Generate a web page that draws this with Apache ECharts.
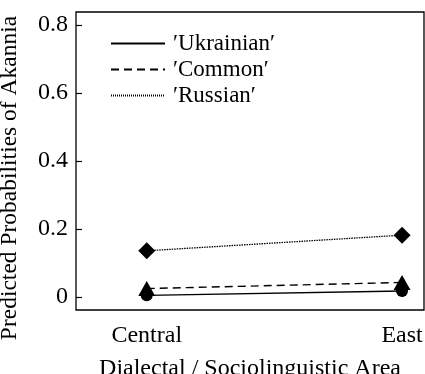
<!DOCTYPE html>
<html><head><meta charset="utf-8">
<script src="https://cdn.jsdelivr.net/npm/echarts@6/dist/echarts.min.js"></script>
<style>html,body{margin:0;padding:0;background:#fff}#c{width:425px;height:374px}</style>
</head><body><div id="c"></div>
<script>
const categories = ['Central', 'East'];
const categoryPos = [1, 2];
const ukrainian = [0.005, 0.018];
const common = [0.025, 0.043];
const russian = [0.136, 0.182];
const yTicks = [0, 0.2, 0.4, 0.6, 0.8];
const seriesNames = ['\u2032Ukrainian\u2032', '\u2032Common\u2032', '\u2032Russian\u2032'];

const font = 'Liberation Serif';
const pts = arr => arr.map((v, i) => [categoryPos[i], v]);
const styles = [
  {type: 'solid', width: 1.4, symbol: 'circle', size: 12},
  {type: [8, 5], width: 1.4, symbol: 'triangle', size: [17, 15]},
  {type: [1.5, 1], width: 1.3, symbol: 'diamond', size: 17}
];
const vals = [ukrainian, common, russian];

const series = [];
[2, 1, 0].forEach(k => {
  series.push({
    type: 'line', name: 'd' + k, data: pts(vals[k]),
    symbol: styles[k].symbol, symbolSize: styles[k].size,
    itemStyle: {color: '#000'},
    lineStyle: {color: '#000', width: styles[k].width, type: styles[k].type},
    silent: true, animation: false, z: 3 + (2 - k)
  });
});
seriesNames.forEach((n, k) => {
  series.push({
    type: 'line', name: n, data: [], symbol: 'none',
    lineStyle: {color: '#000', width: styles[k].width, type: k === 2 ? [1, 1] : styles[k].type},
    itemStyle: {color: '#000'}, animation: false
  });
});

const chart = echarts.init(document.getElementById('c'));
chart.setOption({
  animation: false,
  grid: {left: 76, right: 1, top: 12, bottom: 64, show: true, borderColor: '#000', borderWidth: 1.3,
    containLabel: false, outerBoundsMode: 'none'},
  legend: {
    orient: 'vertical', left: 105, top: 27, itemWidth: 54, itemHeight: 14, itemGap: 3,
    data: seriesNames, selectedMode: false,
    itemStyle: {opacity: 0},
    textStyle: {fontFamily: font, fontSize: 23, color: '#000', padding: [0, 0, 0, 3]}
  },
  xAxis: {
    type: 'value', min: 0.723, max: 2.086,
    name: 'Dialectal / Sociolinguistic Area', nameLocation: 'middle', nameGap: 47,
    nameTextStyle: {fontFamily: font, fontSize: 24, color: '#000'},
    axisLine: {show: false},
    axisTick: {show: true, inside: true, length: 7, customValues: categoryPos, lineStyle: {color: '#000', width: 1.2}},
    axisLabel: {show: true, margin: 14, customValues: categoryPos, fontFamily: font, fontSize: 24, color: '#000',
      formatter: v => categories[categoryPos.indexOf(Math.round(v))] || ''},
    splitLine: {show: false}
  },
  yAxis: {
    type: 'value', min: -0.038, max: 0.838,
    name: 'Predicted Probabilities of Akannia', nameLocation: 'middle', nameGap: 54,
    nameTextStyle: {fontFamily: font, fontSize: 23.5, color: '#000', padding: [0, 34, 0, 0]},
    axisLine: {show: false},
    axisTick: {show: true, inside: true, length: 6, customValues: yTicks, lineStyle: {color: '#000', width: 1.2}},
    axisLabel: {show: true, margin: 8, customValues: yTicks, fontFamily: font, fontSize: 24, color: '#000',
      formatter: v => (Math.abs(v) < 1e-9 ? '0' : v.toFixed(1))},
    splitLine: {show: false}
  },
  series: series
});
</script></body></html>
